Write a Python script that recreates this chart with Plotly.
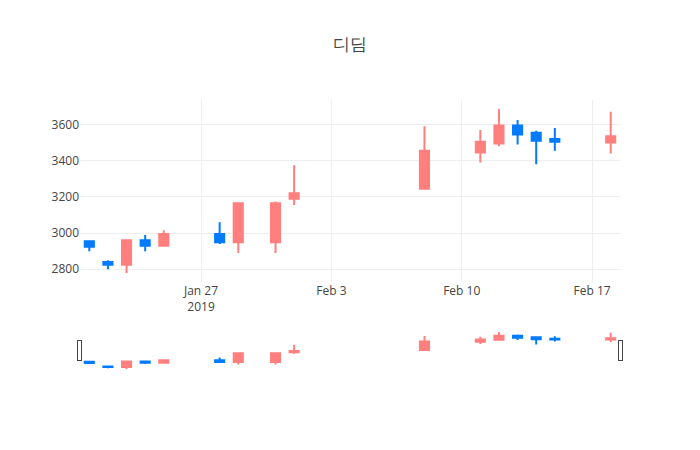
import plotly.graph_objects as go

dates = ["2019-01-21", "2019-01-22", "2019-01-23", "2019-01-24", "2019-01-25",
         "2019-01-28", "2019-01-29", "2019-01-31", "2019-02-01", "2019-02-08",
         "2019-02-11", "2019-02-12", "2019-02-13", "2019-02-14", "2019-02-15",
         "2019-02-18"]
open_ = [2955, 2840, 2825, 2960, 2930, 2995, 2950, 2950, 3190, 3245,
         3445, 3495, 3595, 3555, 3520, 3500]
high = [2955, 2850, 2965, 2990, 3015, 3060, 3170, 3175, 3375, 3590,
        3570, 3685, 3625, 3565, 3580, 3670]
low = [2900, 2800, 2780, 2900, 2930, 2940, 2890, 2890, 3155, 3245,
       3390, 3480, 3490, 3380, 3455, 3440]
close = [2925, 2825, 2960, 2930, 2995, 2950, 3165, 3165, 3220, 3455,
         3505, 3595, 3545, 3510, 3505, 3535]

inc_color = "#FF7F7F"
dec_color = "#007BFF"

fig = go.Figure(go.Candlestick(
    x=dates, open=open_, high=high, low=low, close=close,
    increasing=dict(line=dict(color=inc_color), fillcolor=inc_color),
    decreasing=dict(line=dict(color=dec_color), fillcolor=dec_color),
))

fig.update_layout(
    template="none",
    width=700, height=450,
    title=dict(text="디딤", x=0.5),
    showlegend=False,
)

fig.write_html("out.html")
